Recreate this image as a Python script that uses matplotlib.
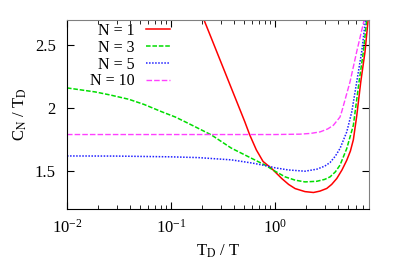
import numpy as np
import matplotlib
matplotlib.use("Agg")
import matplotlib.pyplot as plt
from matplotlib.ticker import FixedLocator, FixedFormatter

plt.rcParams['font.family'] = ['Liberation Serif', 'DejaVu Serif']
plt.rcParams['mathtext.fontset'] = 'stix'
plt.rcParams['font.size'] = 12

# ---- data (x = T_D/T, y = C_N/T_D) ----
x_n1 = [0.2, 0.2076, 0.244, 0.283, 0.328, 0.380, 0.441, 0.511, 0.571, 0.661, 0.767,
        0.929, 1.16, 1.35, 1.56, 1.94, 2.34, 2.7, 3.14, 3.5, 3.92, 4.4, 4.89, 5.3,
        5.66, 6.1, 6.67, 7.33, 7.84, 8.1]
y_n1 = [2.76, 2.70, 2.556, 2.423, 2.291, 2.159, 2.026, 1.894, 1.788, 1.669, 1.577,
        1.521, 1.442, 1.395, 1.362, 1.338, 1.331, 1.342, 1.363, 1.395, 1.442, 1.51, 1.587, 1.66,
        1.75, 1.94, 2.21, 2.45, 2.70, 2.83]

x_n3 = [0.01, 0.0187, 0.026, 0.0392, 0.055, 0.0818, 0.11, 0.1374, 0.182, 0.244, 0.38,
        0.592, 0.796, 1.0, 1.25, 1.56, 1.94, 2.52, 3.0, 3.38, 3.8, 4.21, 4.89, 5.66,
        6.42, 7.07, 7.6, 8.0]
y_n3 = [2.161, 2.129, 2.105, 2.071, 2.03, 1.971, 1.93, 1.891, 1.841, 1.788, 1.683,
        1.603, 1.55, 1.50, 1.455, 1.429, 1.415, 1.42, 1.435, 1.455, 1.495, 1.548, 1.68, 1.865,
        2.21, 2.45, 2.70, 2.83]

x_n5 = [0.01, 0.03, 0.1, 0.182, 0.38, 0.6, 0.8, 1.0, 1.34, 1.94, 2.52, 3.0, 3.38,
        3.8, 4.21, 4.89, 5.46, 6.1, 6.81, 7.4, 8.0]
y_n5 = [1.621, 1.620, 1.614, 1.608, 1.59, 1.565, 1.545, 1.527, 1.51, 1.50, 1.516, 1.54, 1.569,
        1.62, 1.68, 1.812, 1.97, 2.21, 2.45, 2.70, 2.95]

x_n10 = [0.01, 0.1, 1.0, 1.74, 2.2, 2.71, 3.2, 3.64, 4.21, 4.38, 5.26, 6.1, 7.07, 8.0]
y_n10 = [1.791, 1.791, 1.791, 1.794, 1.80, 1.812, 1.835, 1.865, 1.93, 1.974, 2.21, 2.45,
         2.675, 2.9]

labels = ["N = 1", "N = 3", "N = 5", "N = 10"]

fig = plt.figure(figsize=(3.99, 2.79), dpi=100)
ax = fig.add_axes([67/399, 1 - 209/279, (369 - 67)/399, (209 - 20)/279])

ax.plot(x_n1, y_n1, color='#ff0000', lw=1.1, label=labels[0])
ax.plot(x_n3, y_n3, color='#00dd00', lw=1.1, ls=(0, (3, 1.2)), label=labels[1])
ax.plot(x_n5, y_n5, color='#2020ff', lw=1.1, ls=(0, (1, 1)), label=labels[2])
ax.plot(x_n10, y_n10, color='#ff40ff', lw=1.0, ls=(0, (4, 1.5)), label=labels[3])

ax.set_xscale('log')
ax.set_xlim(0.01, 8.0)
ax.set_ylim(1.2, 2.7)

ax.yaxis.set_major_locator(FixedLocator([1.5, 2.0, 2.5]))
ax.yaxis.set_major_formatter(FixedFormatter(["1.5", "2", "2.5"]))

ax.tick_params(which='both', direction='in', top=True, right=True)
ax.tick_params(which='major', length=5)
ax.tick_params(which='minor', length=3)
ax.tick_params(axis='y', pad=8)
ax.tick_params(axis='x', pad=7)
for s in ['top', 'right']:
    ax.spines[s].set_color('#808080')

ax.set_xlabel(r'T$_\mathrm{D}$ / T', labelpad=4)
ax.set_ylabel(r'C$_\mathrm{N}$ / T$_\mathrm{D}$', labelpad=4)

ax.legend(loc='upper right', bbox_to_anchor=(170/399, 1 - 23/279),
          bbox_transform=fig.transFigure, markerfirst=False, fontsize=11.5,
          frameon=False, handlelength=1.5, handletextpad=0.7, labelspacing=0.05,
          borderaxespad=0, borderpad=0)

fig.savefig("out.png", dpi=100)
